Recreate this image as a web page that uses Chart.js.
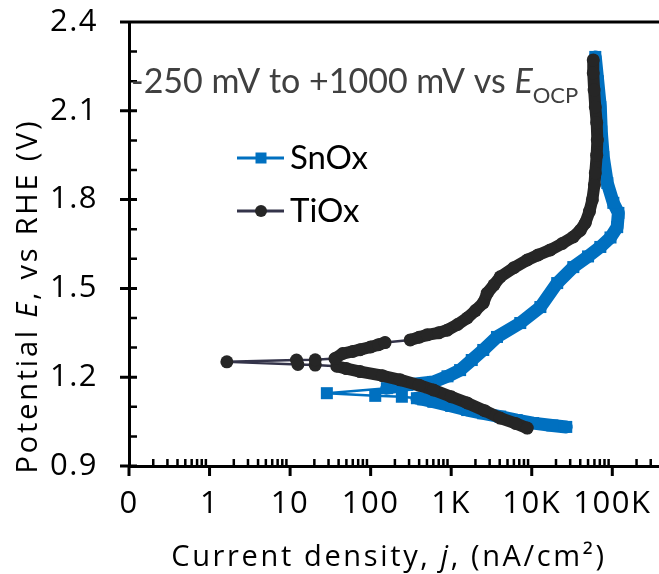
<!DOCTYPE html>
<html>
<head>
<meta charset="utf-8">
<title>Polarization curves SnOx / TiOx</title>
<script src="https://cdn.jsdelivr.net/npm/chart.js@4.4.1/dist/chart.umd.min.js"></script>
<style>
  html, body { margin: 0; padding: 0; background: #fff; }
  #wrap { width: 659px; height: 574px; }
</style>
</head>
<body>
<div id="wrap"><canvas id="chart" width="659" height="574"></canvas></div>
<script>
// current density (nA/cm2) and potential (V vs RHE), in scan order
var snoxCurrent = [26800, 18000, 10400, 6500, 4060, 2500, 1580, 1000, 600, 450, 375, 244, 114, 28.6, 159, 282,
    600, 900, 1290, 1800, 2500, 3700, 7200, 12800, 20700, 32800, 50000, 71000, 95000, 115000, 119000,
    103000, 86700, 77300, 73000, 71000, 66000, 61500];
var snoxPotential = [1.032, 1.037, 1.045, 1.055, 1.067, 1.078, 1.089, 1.103, 1.117, 1.125, 1.129, 1.134, 1.137, 1.146, 1.163, 1.174,
    1.184, 1.203, 1.224, 1.258, 1.292, 1.336, 1.383, 1.437, 1.518, 1.572, 1.608, 1.640, 1.672, 1.707, 1.755,
    1.789, 1.856, 1.944, 2.030, 2.113, 2.200, 2.282];

var tioxCurrent = [8800, 6300, 4060, 2600, 1580, 1000, 600, 400, 232, 140, 74, 50, 38,
    20.5, 12.5, 1.64, 12, 20.5, 36,
    45, 60, 74, 100, 125, 151,
    310, 400, 504, 700, 892, 1200, 1580, 2000, 2500, 2800, 3400, 4060, 6000, 8800, 12000, 17000, 24000,
    32800, 40000, 46200, 52000, 56500, 60000, 61500, 64000, 65200, 64000, 61500, 59500, 58000, 58000];
var tioxPotential = [1.028, 1.044, 1.062, 1.087, 1.113, 1.134, 1.157, 1.173, 1.191, 1.205, 1.219, 1.229, 1.237,
    1.241, 1.243, 1.252, 1.258, 1.259, 1.263,
    1.280, 1.287, 1.293, 1.302, 1.310, 1.317,
    1.326, 1.335, 1.343, 1.350, 1.359, 1.378, 1.400, 1.425, 1.451, 1.484, 1.512, 1.539, 1.570, 1.596, 1.613, 1.630, 1.652,
    1.674, 1.696, 1.721, 1.760, 1.799, 1.850, 1.890, 1.950, 2.001, 2.060, 2.113, 2.170, 2.228, 2.272];

var seriesNames = ['SnOx', 'TiOx'];
var xTickValues = [0.1, 1, 10, 100, 1000, 10000, 100000];
var xTickLabels = ['0', '1', '10', '100', '1K', '10K', '100K'];
var yTickValues = [0.9, 1.2, 1.5, 1.8, 2.1, 2.4];

var BLUE = '#0070c0';
var DARK = '#262626';
var DARK_THIN = '#34344a';

function toPoints(xs, ys) {
    return xs.map(function (x, i) { return { x: x, y: ys[i] }; });
}

// sparse stretches near the corrosion potential are joined by a thin line
var snoxThin = [10, 11, 12, 13];
var tioxThin = [12, 13, 14, 15, 16, 17, 24];

function segWidth(thin, thick) {
    return function (ctx) { return thin.indexOf(ctx.p0DataIndex) >= 0 ? 2.5 : thick; };
}

function fontFor(p, size, family) {
    return (p.italic ? 'italic ' : '') + Math.round(size * (p.sub ? 0.66 : 1)) + 'px "' + family + '"';
}

function richWidth(c, parts, size, family) {
    var w = 0;
    parts.forEach(function (p) {
        c.font = fontFor(p, size, family);
        w += c.measureText(p.text).width;
    });
    return w;
}

// spread letters so the text fills the given length
function fitSpacing(c, parts, size, family, target) {
    c.letterSpacing = '0px';
    var w = richWidth(c, parts, size, family);
    var n = parts.reduce(function (a, p) { return a + p.text.length; }, 0);
    var ls = Math.max(0, (target - w) / (n - 1));
    c.letterSpacing = ls.toFixed(2) + 'px';
}

function drawRich(c, parts, x, y, size, family, align) {
    var w = richWidth(c, parts, size, family);
    var cx = align === 'center' ? x - w / 2 : x;
    c.textAlign = 'left';
    c.textBaseline = 'alphabetic';
    parts.forEach(function (p) {
        c.font = fontFor(p, size, family);
        c.fillText(p.text, cx, y + (p.sub ? size * 0.28 : 0));
        cx += c.measureText(p.text).width;
    });
}

var decorPlugin = {
    id: 'decor',
    beforeDraw: function (chart) {
        chart.ctx.letterSpacing = '1.5px';
    },
    afterDraw: function (chart) {
        var c = chart.ctx;
        var xs = chart.scales.x, ys = chart.scales.y;
        var area = chart.chartArea;
        var left = area.left, top = area.top, bottom = area.bottom;
        var y, x, k, d, m;

        c.save();
        c.letterSpacing = '0px';
        c.strokeStyle = '#000';
        c.lineCap = 'butt';

        // top frame line and y major ticks (crossing the axis)
        c.lineWidth = 3;
        c.beginPath();
        c.moveTo(left - 9, top);
        c.lineTo(chart.width, top);
        yTickValues.forEach(function (v) {
            var py = ys.getPixelForValue(v);
            c.moveTo(left - 9, py);
            c.lineTo(left + 8, py);
        });
        // x major ticks, pointing down
        for (d = xs.min; d <= xs.max * 10; d *= 10) {
            x = xs.getPixelForValue(d);
            if (x > chart.width + 2) break;
            c.moveTo(x, bottom);
            c.lineTo(x, bottom + 10);
        }
        c.stroke();

        // minor ticks, pointing inside
        c.lineWidth = 2.5;
        c.beginPath();
        for (k = 9; k <= 24; k++) {
            if (k % 3 === 0) continue;
            y = ys.getPixelForValue(k / 10);
            c.moveTo(left, y);
            c.lineTo(left + 8, y);
        }
        for (d = xs.min; d <= xs.max; d *= 10) {
            for (m = 2; m <= 9; m++) {
                x = xs.getPixelForValue(m * d);
                if (x > chart.width) break;
                c.moveTo(x, bottom);
                c.lineTo(x, bottom - 7);
            }
        }
        c.stroke();

        // axis titles
        c.fillStyle = '#000';
        var xTitle = [{ text: 'Current density, ' }, { text: 'j', italic: true }, { text: ', (nA/cm\u00b2)' }];
        fitSpacing(c, xTitle, 29, 'Open Sans', 433);
        drawRich(c, xTitle, 389, 566, 29, 'Open Sans', 'center');

        var yTitle = [{ text: 'Potential ' }, { text: 'E', italic: true }, { text: ', vs RHE (V)' }];
        fitSpacing(c, yTitle, 29, 'Open Sans', 352);
        c.save();
        c.translate(37, 296);
        c.rotate(-Math.PI / 2);
        drawRich(c, yTitle, 0, 0, 29, 'Open Sans', 'center');
        c.restore();

        // scan range note
        c.letterSpacing = '0px';
        c.fillStyle = '#404040';
        drawRich(c, [{ text: '-250 mV to +1000 mV vs ' }, { text: 'E', italic: true }, { text: 'OCP', sub: true }],
            131, 93, 34, 'Lato', 'left');

        // legend
        var sets = chart.data.datasets;
        var rows = [158, 211];
        rows.forEach(function (ry, i) {
            var ds = sets[i];
            c.strokeStyle = i === 0 ? BLUE : DARK_THIN;
            c.lineWidth = 3;
            c.beginPath();
            c.moveTo(237, ry);
            c.lineTo(284, ry);
            c.stroke();
            c.fillStyle = ds.backgroundColor;
            c.beginPath();
            if (ds.pointStyle === 'rect') {
                c.rect(255.5, ry - 5.5, 11, 11);
            } else {
                c.arc(261, ry, 6, 0, Math.PI * 2);
            }
            c.fill();
            c.fillStyle = '#000';
            c.font = '33px "Lato"';
            c.textAlign = 'left';
            c.textBaseline = 'alphabetic';
            c.fillText(ds.label, 290, ry + 11);
        });

        c.restore();
        c.letterSpacing = '0px';
    }
};

new Chart(document.getElementById('chart'), {
    type: 'scatter',
    data: {
        datasets: [{
            label: seriesNames[0],
            data: toPoints(snoxCurrent, snoxPotential),
            showLine: true,
            order: 1,
            borderColor: BLUE,
            backgroundColor: BLUE,
            borderWidth: 13,
            borderJoinStyle: 'round',
            borderCapStyle: 'round',
            pointStyle: 'rect',
            pointRadius: 8.5,
            pointBorderWidth: 0,
            segment: { borderWidth: segWidth(snoxThin, 13) }
        }, {
            label: seriesNames[1],
            data: toPoints(tioxCurrent, tioxPotential),
            showLine: true,
            order: 0,
            borderColor: DARK,
            backgroundColor: DARK,
            borderWidth: 12,
            borderJoinStyle: 'round',
            borderCapStyle: 'round',
            pointStyle: 'circle',
            pointRadius: 6.5,
            pointBorderWidth: 0,
            segment: {
                borderWidth: segWidth(tioxThin, 12),
                borderColor: function (ctx) { return tioxThin.indexOf(ctx.p0DataIndex) >= 0 ? DARK_THIN : DARK; }
            }
        }]
    },
    options: {
        responsive: false,
        animation: false,
        devicePixelRatio: 1,
        layout: { autoPadding: false, padding: { top: 22, left: 0, right: 0, bottom: 0 } },
        plugins: {
            legend: { display: false },
            tooltip: { enabled: false }
        },
        scales: {
            x: {
                type: 'logarithmic',
                position: 'bottom',
                min: 0.1,
                max: 380000,
                afterBuildTicks: function (s) {
                    s.ticks = xTickValues.map(function (v) { return { value: v }; });
                },
                afterFit: function (s) {
                    s.height = 108;
                    s.paddingLeft = 0;
                    s.paddingRight = 0;
                },
                grid: { display: true, drawOnChartArea: false, drawTicks: false, color: 'transparent' },
                border: { display: true, color: '#000', width: 3 },
                title: { display: false },
                ticks: {
                    autoSkip: false,
                    maxRotation: 0,
                    padding: 20,
                    color: '#000',
                    font: { family: 'Open Sans', size: 31, lineHeight: 1.2 },
                    callback: function (v, i) { return xTickLabels[i]; }
                }
            },
            y: {
                type: 'linear',
                min: 0.9,
                max: 2.4,
                afterBuildTicks: function (s) {
                    s.ticks = yTickValues.map(function (v) { return { value: v }; });
                },
                afterFit: function (s) {
                    s.width = 129;
                    s.paddingTop = 0;
                    s.paddingBottom = 0;
                },
                grid: { display: true, drawOnChartArea: false, drawTicks: false, color: 'transparent' },
                border: { display: true, color: '#000', width: 3 },
                title: { display: false },
                ticks: {
                    padding: 31,
                    color: '#000',
                    font: { family: 'Open Sans', size: 31, lineHeight: 1.2 },
                    callback: function (v) { return v.toFixed(1); }
                }
            }
        }
    },
    plugins: [decorPlugin]
});
</script>
</body>
</html>
